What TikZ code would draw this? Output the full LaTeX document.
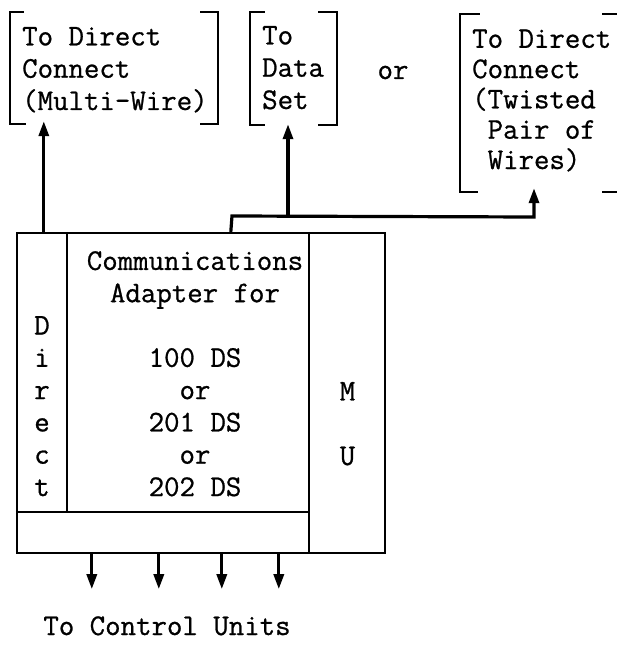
\documentclass[tikz,border=0pt]{standalone}
\usepackage{fontspec}
\newfontfamily\typew{Latin Modern Mono}[FakeBold=0.8]
\usetikzlibrary{arrows.meta,calc}
\begin{document}
\begin{tikzpicture}[x=1pt,y=-1pt,
  ln/.style={line width=2.4pt},
  wire/.style={line width=3.2pt},
  arr/.style={wire,-{Triangle[length=15pt,width=10pt]}},
  txt/.style={font=\typew\fontsize{30}{32.3}\selectfont, inner sep=0pt, align=left, anchor=base west},
  txtc/.style={txt, align=center, anchor=base},
  frame/.style={draw=none, inner sep=0pt},
]
\useasboundingbox (0,0) rectangle (616,650);

% bracket frames (invisible nodes)
\node[frame, minimum width=208pt, minimum height=112pt] (b1) at (114,68) {};
\node[frame, minimum width=87pt, minimum height=113pt] (b2) at (293.5,68.5) {};
\node[frame, minimum width=158pt, minimum height=178pt] (b3) at (539,103) {};

\draw[ln] ([xshift=14pt]b1.north west) -| (b1.south west) -- ++(16,0);
\draw[ln] ([xshift=-18pt]b1.north east) -| (b1.south east) -- ++(-18,0);
\draw[ln] ([xshift=15pt]b2.north west) -| (b2.south west) -- ++(15,0);
\draw[ln] ([xshift=-19pt]b2.north east) -| (b2.south east) -- ++(-19,0);
\draw[ln] ([xshift=20pt]b3.north west) -| (b3.south west) -- ++(18,0);
\draw[ln] ([xshift=-16pt]b3.north east) -| (b3.south east) -- ++(-16,0);

% texts in brackets (base anchor = baseline of last line)
\node[txt] (t1) at (22,110) {To Direct\\Connect\\(Multi-Wire)};
\node[txt] (t2) at (262,109) {To\\Data\\Set};
\node[txt, font=\typew\fontsize{30}{30.3}\selectfont] (t3) at (472,169) {To Direct\\Connect\\(Twisted\\\ Pair of\\\ Wires)};
\node[txtc] (or) at (393,79) {or};

% main box
\node[draw, ln, minimum width=368pt, minimum height=320pt, inner sep=0pt] (box) at (201,393) {};
\coordinate (dtop) at ([xshift=51pt]box.north west);
\coordinate (dbot) at ($(box.south west)+(51,-42)$);
\coordinate (hl) at ($(box.south west)+(0,-42)$);
\coordinate (mtop) at ([xshift=293pt]box.north west);
\coordinate (mbot) at ([xshift=293pt]box.south west);
\draw[ln] (dtop) -- (dbot);
\draw[ln] (hl) -- (hl -| mtop);
\draw[ln] (mtop) -- (mbot);

\node[txtc] (ca) at (195,496) {Communications\\Adapter for\\\mbox{}\\100 DS\\or\\201 DS\\or\\202 DS};
\node[txtc] (dir) at (42,496) {D\\i\\r\\e\\c\\t};
\node[txtc] (mu) at (347.5,465) {M\\\mbox{}\\U};

% connectors
\coordinate (a1) at ([xshift=28pt]box.north west);
\draw[arr] (a1) -- ([yshift=3pt]a1 |- b1.south);
\coordinate (a2) at ([xshift=215pt]box.north west);
\coordinate (jl) at (232,216);
\coordinate (jm) at (288,216);
\coordinate (jr) at (534,217);
\draw[arr] (a2) -- (jl) -- (jr) -- ([yshift=4pt]jr |- b3.south);
\draw[arr] (jm) -- ([yshift=1pt]jm |- b2.south);
\foreach \dx in {76,143,206,263}
  \draw[arr] ([xshift=\dx pt]box.south west) -- ++(0,35);

\node[txtc] (cu) at (167,635) {To Control Units};
\end{tikzpicture}
\end{document}
